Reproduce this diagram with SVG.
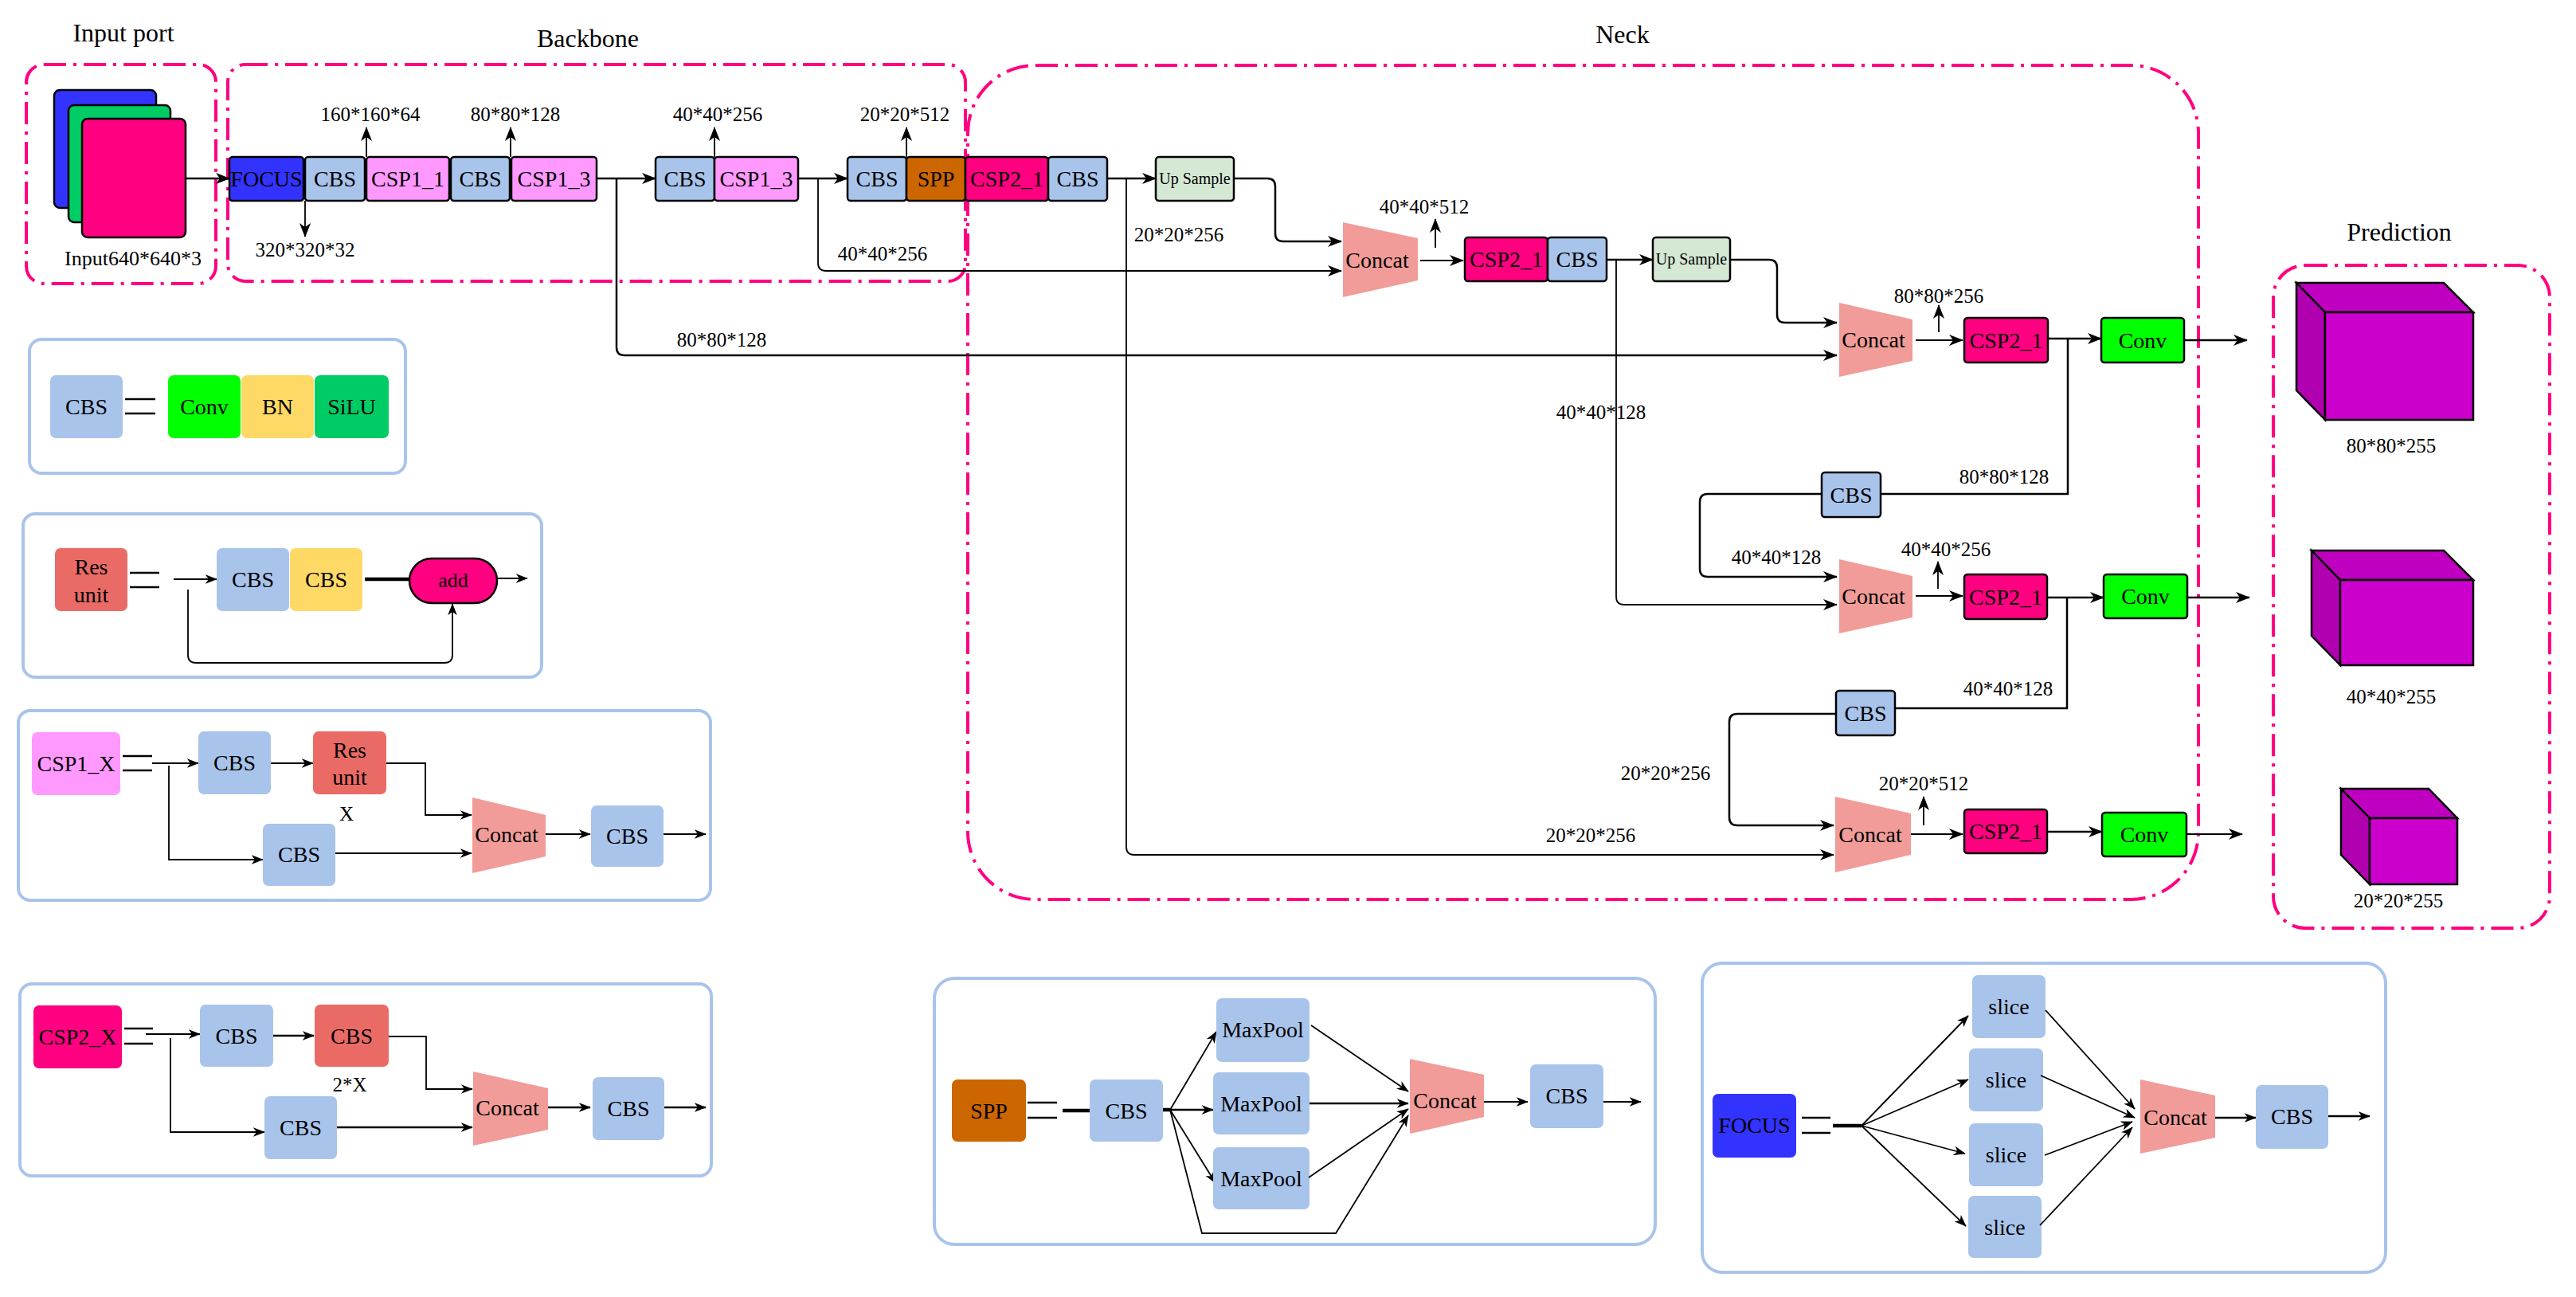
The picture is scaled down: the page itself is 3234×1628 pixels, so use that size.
<svg xmlns="http://www.w3.org/2000/svg" width="3234" height="1628" viewBox="0 0 3234 1628">
<style>
text{font-family:"Liberation Serif","Times New Roman",serif;fill:#000}
.t{font-size:28px;text-anchor:middle}
.us{font-size:20px;text-anchor:middle}
.l{font-size:25px;text-anchor:middle}
.ti{font-size:32px;text-anchor:middle}
.b{stroke:#000;stroke-width:2.5}
.cbs{fill:#A9C4EB}.foc{fill:#3333FF}.csp1{fill:#FF99FF}.csp2{fill:#FF0080}.spp{fill:#CC6600}
.up{fill:#D5E8D4}.conv{fill:#00FF00}.bn{fill:#FFD966}.silu{fill:#00CC66}.res{fill:#EA6B66}
.cat{fill:#F19C99}
.pd{fill:none;stroke:#FF0080;stroke-width:4;stroke-dasharray:28 9 4 9}
.lg{fill:none;stroke:#A9C4EB;stroke-width:4}
.ln{fill:none;stroke:#000;stroke-width:2.5}
.th{fill:none;stroke:#000;stroke-width:1.8}
.hv{fill:none;stroke:#000;stroke-width:4.5}
.eq{stroke:#000;stroke-width:2.5}
</style>
<defs>
<marker id="a" viewBox="0 0 18 14" refX="17" refY="7" markerWidth="18" markerHeight="14" markerUnits="userSpaceOnUse" orient="auto"><path d="M0,0 L18,7 L0,14 L5,7 Z" fill="#000"/></marker>
<marker id="s" viewBox="0 0 18 14" refX="17" refY="7" markerWidth="15" markerHeight="12" markerUnits="userSpaceOnUse" orient="auto"><path d="M0,0 L18,7 L0,14 L5,7 Z" fill="#000"/></marker>
</defs>
<rect width="3234" height="1628" fill="#fff"/>

<g id="frames">
<rect class="pd" x="33" y="81" width="238" height="275" rx="22"/>
<rect class="pd" x="286" y="81" width="926" height="272" rx="22"/>
<rect class="pd" x="1215" y="82" width="1545" height="1047" rx="85"/>
<rect class="pd" x="2854" y="333" width="347" height="832" rx="40"/>
<text class="ti" x="155" y="52">Input port</text>
<text class="ti" x="738" y="59">Backbone</text>
<text class="ti" x="2037" y="54">Neck</text>
<text class="ti" x="3012" y="302">Prediction</text>
</g>

<g id="connectors">
<path class="ln" d="M233,224 H288" marker-end="url(#a)"/>
<path class="th" d="M383,252 V297" marker-end="url(#a)"/>
<path class="th" d="M460,197 V160" marker-end="url(#a)"/>
<path class="th" d="M641,197 V160" marker-end="url(#a)"/>
<path class="th" d="M897,197 V160" marker-end="url(#a)"/>
<path class="th" d="M1138,197 V160" marker-end="url(#a)"/>
<path class="ln" d="M749,224 H823" marker-end="url(#a)"/>
<path class="ln" d="M774,224 V436 Q774,446 784,446 H2306" marker-end="url(#a)"/>
<path class="ln" d="M1002,224 H1064" marker-end="url(#a)"/>
<path class="th" d="M1027,224 V330 Q1027,340 1037,340 H1684" marker-end="url(#a)"/>
<path class="ln" d="M1390,224 H1451" marker-end="url(#a)"/>
<path class="th" d="M1414,224 V1063 Q1414,1073 1424,1073 H2302" marker-end="url(#a)"/>
<path class="ln" d="M1549,224 H1591 Q1601,224 1601,234 V293 Q1601,303 1611,303 H1684" marker-end="url(#a)"/>
<path class="th" d="M1783,327 H1837" marker-end="url(#a)"/>
<path class="th" d="M1802,311 V275" marker-end="url(#a)"/>
<path class="ln" d="M2017,326 H2075" marker-end="url(#a)"/>
<path class="th" d="M2029,326 V749 Q2029,759 2039,759 H2306" marker-end="url(#a)"/>
<path class="ln" d="M2172,326 H2221 Q2231,326 2231,336 V395 Q2231,405 2241,405 H2306" marker-end="url(#a)"/>
<path class="th" d="M2405,427 H2464" marker-end="url(#a)"/>
<path class="th" d="M2434,417 V383" marker-end="url(#a)"/>
<path class="ln" d="M2571,425 H2638" marker-end="url(#a)"/>
<path class="ln" d="M2596,425 V620 H2361"/>
<path class="ln" d="M2742,427 H2821" marker-end="url(#a)"/>
<path class="ln" d="M2287,620 H2144 Q2134,620 2134,630 V714 Q2134,724 2144,724 H2306" marker-end="url(#a)"/>
<path class="th" d="M2405,748 H2464" marker-end="url(#a)"/>
<path class="th" d="M2433,739 V705" marker-end="url(#a)"/>
<path class="ln" d="M2570,750 H2641" marker-end="url(#a)"/>
<path class="ln" d="M2595,750 V889 H2305"/>
<path class="ln" d="M2746,750 H2824" marker-end="url(#a)"/>
<path class="ln" d="M2305,896 H2181 Q2171,896 2171,906 V1026 Q2171,1036 2181,1036 H2302" marker-end="url(#a)"/>
<path class="th" d="M2399,1047 H2464" marker-end="url(#a)"/>
<path class="th" d="M2415,1036 V1000" marker-end="url(#a)"/>
<path class="ln" d="M2570,1044 H2639" marker-end="url(#a)"/>
<path class="th" d="M2745,1047 H2815" marker-end="url(#a)"/>
</g>

<g id="labels">
<text class="l" x="383" y="322">320*320*32</text>
<text class="l" x="465" y="152">160*160*64</text>
<text class="l" x="647" y="152">80*80*128</text>
<text class="l" x="901" y="152">40*40*256</text>
<text class="l" x="1136" y="152">20*20*512</text>
<text class="l" x="167" y="333" style="font-size:26px">Input640*640*3</text>
<text class="l" x="1108" y="327">40*40*256</text>
<text class="l" x="906" y="435">80*80*128</text>
<text class="l" x="1480" y="303">20*20*256</text>
<text class="l" x="1788" y="268">40*40*512</text>
<text class="l" x="2010" y="526">40*40*128</text>
<text class="l" x="2434" y="380">80*80*256</text>
<text class="l" x="2516" y="607">80*80*128</text>
<text class="l" x="2230" y="708">40*40*128</text>
<text class="l" x="2443" y="698">40*40*256</text>
<text class="l" x="2521" y="873">40*40*128</text>
<text class="l" x="2091" y="979">20*20*256</text>
<text class="l" x="1997" y="1057">20*20*256</text>
<text class="l" x="2415" y="992">20*20*512</text>
<text class="l" x="3002" y="568">80*80*255</text>
<text class="l" x="3002" y="883">40*40*255</text>
<text class="l" x="3011" y="1139">20*20*255</text>
</g>

<g id="input-image">
<rect class="b foc" x="68" y="113" width="128" height="148" rx="7"/>
<rect class="b silu" x="86" y="132" width="128" height="147" rx="7"/>
<rect class="b csp2" x="103" y="149" width="130" height="149" rx="7"/>
</g>

<g id="bb-focus"><rect class="b foc" x="288" y="197" width="93" height="55" rx="4"/><text class="t" x="334.5" y="234">FOCUS</text></g>
<g id="bb-cbs1"><rect class="b cbs" x="383" y="197" width="75" height="55" rx="4"/><text class="t" x="420.5" y="234">CBS</text></g>
<g id="bb-csp1-1"><rect class="b csp1" x="460" y="197" width="104" height="55" rx="4"/><text class="t" x="512" y="234">CSP1_1</text></g>
<g id="bb-cbs2"><rect class="b cbs" x="566" y="197" width="74" height="55" rx="4"/><text class="t" x="603" y="234">CBS</text></g>
<g id="bb-csp1-3a"><rect class="b csp1" x="642" y="197" width="107" height="55" rx="4"/><text class="t" x="695.5" y="234">CSP1_3</text></g>
<g id="bb-cbs3"><rect class="b cbs" x="823" y="197" width="74" height="55" rx="4"/><text class="t" x="860" y="234">CBS</text></g>
<g id="bb-csp1-3b"><rect class="b csp1" x="897" y="197" width="105" height="55" rx="4"/><text class="t" x="949.5" y="234">CSP1_3</text></g>
<g id="bb-cbs4"><rect class="b cbs" x="1064" y="197" width="74" height="55" rx="4"/><text class="t" x="1101" y="234">CBS</text></g>
<g id="bb-spp"><rect class="b spp" x="1138" y="197" width="74" height="55" rx="4"/><text class="t" x="1175" y="234">SPP</text></g>
<g id="bb-csp2"><rect class="b csp2" x="1212" y="197" width="104" height="55" rx="4"/><text class="t" x="1264" y="234">CSP2_1</text></g>
<g id="bb-cbs5"><rect class="b cbs" x="1316" y="197" width="74" height="55" rx="4"/><text class="t" x="1353" y="234">CBS</text></g>
<g id="nk-up1"><rect class="b up" x="1451" y="197" width="98" height="55" rx="4"/><text class="us" x="1500" y="231">Up Sample</text></g>

<g id="nk-concat1"><polygon class="cat" points="1686,279 1780,299 1780,352 1686,373"/><text class="t" x="1729" y="336">Concat</text></g>
<g id="nk-csp2-a"><rect class="b csp2" x="1839" y="298" width="104" height="55" rx="4"/><text class="t" x="1891" y="335">CSP2_1</text></g>
<g id="nk-cbs-a"><rect class="b cbs" x="1943" y="298" width="74" height="55" rx="4"/><text class="t" x="1980" y="335">CBS</text></g>
<g id="nk-up2"><rect class="b up" x="2075" y="298" width="97" height="55" rx="4"/><text class="us" x="2123.5" y="332">Up Sample</text></g>

<g id="nk-concat2"><polygon class="cat" points="2309,380 2401,401 2401,453 2309,473"/><text class="t" x="2352" y="436">Concat</text></g>
<g id="nk-csp2-b"><rect class="b csp2" x="2466" y="399" width="105" height="56" rx="4"/><text class="t" x="2518.5" y="436.5">CSP2_1</text></g>
<g id="nk-conv1"><rect class="b conv" x="2638" y="399" width="104" height="56" rx="4"/><text class="t" x="2690" y="436.5">Conv</text></g>

<g id="nk-cbs-b"><rect class="b cbs" x="2287" y="593" width="74" height="56" rx="4"/><text class="t" x="2324" y="630.5">CBS</text></g>

<g id="nk-concat3"><polygon class="cat" points="2309,702 2401,723 2401,775 2309,795"/><text class="t" x="2352" y="758">Concat</text></g>
<g id="nk-csp2-c"><rect class="b csp2" x="2466" y="721" width="104" height="56" rx="4"/><text class="t" x="2518" y="758.5">CSP2_1</text></g>
<g id="nk-conv2"><rect class="b conv" x="2641" y="721" width="105" height="55" rx="4"/><text class="t" x="2693.5" y="758">Conv</text></g>

<g id="nk-cbs-c"><rect class="b cbs" x="2305" y="867" width="74" height="56" rx="4"/><text class="t" x="2342" y="904.5">CBS</text></g>

<g id="nk-concat4"><polygon class="cat" points="2304,1000 2399,1021 2399,1073 2304,1095"/><text class="t" x="2348" y="1057">Concat</text></g>
<g id="nk-csp2-d"><rect class="b csp2" x="2466" y="1016" width="104" height="55" rx="4"/><text class="t" x="2518" y="1053">CSP2_1</text></g>
<g id="nk-conv3"><rect class="b conv" x="2639" y="1020" width="106" height="55" rx="4"/><text class="t" x="2692" y="1057">Conv</text></g>

<g id="pred-80">
<polygon class="b" fill="#C000C0" points="2883,355 3068,355 3105,392 2919,392"/>
<polygon class="b" fill="#B000B0" points="2883,355 2919,392 2919,527 2883,490"/>
<rect class="b" fill="#CC00CC" x="2919" y="392" width="186" height="135"/>
</g>
<g id="pred-40">
<polygon class="b" fill="#C000C0" points="2902,691 3068,691 3105,728 2938,728"/>
<polygon class="b" fill="#B000B0" points="2902,691 2938,728 2938,835 2902,798"/>
<rect class="b" fill="#CC00CC" x="2938" y="728" width="167" height="107"/>
</g>
<g id="pred-20">
<polygon class="b" fill="#C000C0" points="2939,990 3049,990 3085,1027 2975,1027"/>
<polygon class="b" fill="#B000B0" points="2939,990 2975,1027 2975,1110 2939,1073"/>
<rect class="b" fill="#CC00CC" x="2975" y="1027" width="110" height="83"/>
</g>

<g id="legend-cbs">
<rect class="lg" x="37" y="426" width="472" height="168" rx="15"/>
<rect class="cbs" x="63" y="471" width="91" height="79" rx="7"/><text class="t" x="108.5" y="520">CBS</text>
<line class="eq" x1="157" y1="501" x2="195" y2="501"/><line class="eq" x1="157" y1="519" x2="195" y2="519"/>
<rect class="conv" x="211" y="471" width="91" height="79" rx="7"/><text class="t" x="256.5" y="520">Conv</text>
<rect class="bn" x="303" y="471" width="91" height="79" rx="7"/><text class="t" x="348.5" y="520">BN</text>
<rect class="silu" x="395" y="471" width="93" height="79" rx="7"/><text class="t" x="441.5" y="520">SiLU</text>
</g>

<g id="legend-res">
<rect class="lg" x="29" y="645" width="651" height="205" rx="15"/>
<rect class="res" x="69" y="688" width="91" height="79" rx="7"/><text class="t" x="114.5" y="721">Res</text><text class="t" x="114.5" y="756">unit</text>
<line class="eq" x1="163" y1="719" x2="200" y2="719"/><line class="eq" x1="163" y1="737" x2="200" y2="737"/>
<path class="th" d="M218,727 H272" marker-end="url(#s)"/>
<rect class="cbs" x="272" y="688" width="91" height="79" rx="7"/><text class="t" x="317.5" y="737">CBS</text>
<rect class="bn" x="364" y="688" width="91" height="79" rx="7"/><text class="t" x="409.5" y="737">CBS</text>
<path class="hv" d="M458,727 H514"/>
<rect class="b csp2" x="514" y="701" width="110" height="56" rx="28"/><text class="t" x="569" y="737" style="font-size:26px">add</text>
<path class="th" d="M624,726 H662" marker-end="url(#s)"/>
<path class="th" d="M236,740 V822 Q236,832 246,832 H558 Q568,832 568,822 V758" marker-end="url(#s)"/>
</g>

<g id="legend-csp1">
<rect class="lg" x="23" y="892" width="869" height="238" rx="15"/>
<rect class="csp1" x="40" y="919" width="111" height="79" rx="7"/><text class="t" x="95.5" y="968">CSP1_X</text>
<line class="eq" x1="154" y1="949" x2="191" y2="949"/><line class="eq" x1="154" y1="967" x2="191" y2="967"/>
<path class="th" d="M191,958 H249" marker-end="url(#s)"/>
<rect class="cbs" x="249" y="918" width="91" height="79" rx="7"/><text class="t" x="294.5" y="967">CBS</text>
<path class="th" d="M340,958 H393" marker-end="url(#s)"/>
<rect class="res" x="393" y="918" width="92" height="79" rx="7"/><text class="t" x="439" y="951">Res</text><text class="t" x="439" y="985">unit</text>
<text class="l" x="435" y="1030">X</text>
<path class="th" d="M485,958 H534 V1023 H592" marker-end="url(#s)"/>
<path class="th" d="M212,961 V1079 H330" marker-end="url(#s)"/>
<rect class="cbs" x="330" y="1034" width="91" height="78" rx="7"/><text class="t" x="375.5" y="1082">CBS</text>
<path class="th" d="M421,1071 H592" marker-end="url(#s)"/>
<polygon class="cat" points="593,1001 685,1023 685,1075 593,1096"/><text class="t" x="636" y="1057">Concat</text>
<path class="th" d="M685,1047 H741" marker-end="url(#s)"/>
<rect class="cbs" x="742" y="1011" width="91" height="77" rx="7"/><text class="t" x="787.5" y="1059">CBS</text>
<path class="th" d="M833,1047 H886" marker-end="url(#s)"/>
</g>

<g id="legend-csp2">
<rect class="lg" x="25" y="1235" width="868" height="241" rx="15"/>
<rect class="csp2" x="42" y="1262" width="111" height="79" rx="7"/><text class="t" x="97.5" y="1311">CSP2_X</text>
<line class="eq" x1="156" y1="1291" x2="192" y2="1291"/><line class="eq" x1="156" y1="1310" x2="192" y2="1310"/>
<path class="th" d="M183,1298 H251" marker-end="url(#s)"/>
<rect class="cbs" x="251" y="1261" width="92" height="78" rx="7"/><text class="t" x="297" y="1310">CBS</text>
<path class="ln" d="M343,1300 H394" marker-end="url(#s)"/>
<rect class="res" x="395" y="1261" width="93" height="78" rx="7"/><text class="t" x="441.5" y="1310">CBS</text>
<text class="l" x="439" y="1370">2*X</text>
<path class="th" d="M488,1301 H535 V1367 H593" marker-end="url(#s)"/>
<path class="th" d="M214,1303 V1421 H332" marker-end="url(#s)"/>
<rect class="cbs" x="332" y="1376" width="91" height="79" rx="7"/><text class="t" x="377.5" y="1425">CBS</text>
<path class="ln" d="M423,1415 H593" marker-end="url(#s)"/>
<polygon class="cat" points="594,1345 688,1366 688,1418 594,1438"/><text class="t" x="637" y="1400">Concat</text>
<path class="ln" d="M688,1390 H741" marker-end="url(#s)"/>
<rect class="cbs" x="744" y="1352" width="90" height="79" rx="7"/><text class="t" x="789" y="1401">CBS</text>
<path class="ln" d="M834,1390 H886" marker-end="url(#s)"/>
</g>

<g id="legend-spp">
<rect class="lg" x="1173" y="1228" width="905" height="334" rx="25"/>
<rect class="spp" x="1195" y="1355" width="93" height="78" rx="7"/><text class="t" x="1241.5" y="1404">SPP</text>
<line class="eq" x1="1290" y1="1384" x2="1327" y2="1384"/><line class="eq" x1="1290" y1="1403" x2="1327" y2="1403"/>
<path class="hv" d="M1334,1394 H1368"/>
<rect class="cbs" x="1368" y="1355" width="92" height="78" rx="7"/><text class="t" x="1414" y="1404">CBS</text>
<path class="hv" d="M1460,1393 H1469"/>
<path class="th" d="M1469,1393 L1527,1295" marker-end="url(#s)"/>
<path class="ln" d="M1469,1393 H1523" marker-end="url(#s)"/>
<path class="th" d="M1469,1393 L1526,1485" marker-end="url(#s)"/>
<path class="th" d="M1469,1393 L1509,1548 H1677 L1768,1400" marker-end="url(#s)"/>
<rect class="cbs" x="1527" y="1253" width="117" height="80" rx="7"/><text class="t" x="1585.5" y="1302">MaxPool</text>
<rect class="cbs" x="1523" y="1346" width="121" height="78" rx="7"/><text class="t" x="1583.5" y="1395">MaxPool</text>
<rect class="cbs" x="1523" y="1440" width="121" height="78" rx="7"/><text class="t" x="1583.5" y="1489">MaxPool</text>
<path class="th" d="M1646,1287 L1768,1370" marker-end="url(#s)"/>
<path class="ln" d="M1644,1385 H1768" marker-end="url(#s)"/>
<path class="th" d="M1643,1478 L1768,1392" marker-end="url(#s)"/>
<polygon class="cat" points="1770,1329 1863,1349 1863,1402 1770,1423"/><text class="t" x="1814" y="1391">Concat</text>
<path class="th" d="M1863,1383 H1918" marker-end="url(#s)"/>
<rect class="cbs" x="1921" y="1336" width="92" height="80" rx="7"/><text class="t" x="1967" y="1385">CBS</text>
<path class="th" d="M2013,1383 H2060" marker-end="url(#s)"/>
</g>

<g id="legend-focus">
<rect class="lg" x="2137" y="1209" width="858" height="388" rx="25"/>
<rect class="foc" x="2150" y="1373" width="105" height="80" rx="7"/><text class="t" x="2202.5" y="1422">FOCUS</text>
<line class="eq" x1="2262" y1="1403" x2="2298" y2="1403"/><line class="eq" x1="2262" y1="1422" x2="2298" y2="1422"/>
<path class="hv" d="M2301,1413 H2337"/>
<path class="th" d="M2337,1413 L2471,1275" marker-end="url(#s)"/>
<path class="th" d="M2337,1413 L2471,1355" marker-end="url(#s)"/>
<path class="th" d="M2337,1413 L2467,1448" marker-end="url(#s)"/>
<path class="th" d="M2337,1413 L2468,1539" marker-end="url(#s)"/>
<rect class="cbs" x="2476" y="1224" width="92" height="79" rx="7"/><text class="t" x="2522" y="1273">slice</text>
<rect class="cbs" x="2472" y="1316" width="93" height="79" rx="7"/><text class="t" x="2518.5" y="1365">slice</text>
<rect class="cbs" x="2472" y="1410" width="93" height="79" rx="7"/><text class="t" x="2518.5" y="1459">slice</text>
<rect class="cbs" x="2471" y="1501" width="92" height="78" rx="7"/><text class="t" x="2517" y="1550">slice</text>
<path class="th" d="M2568,1268 L2680,1392" marker-end="url(#s)"/>
<path class="th" d="M2562,1350 L2680,1403" marker-end="url(#s)"/>
<path class="th" d="M2567,1450 L2677,1408" marker-end="url(#s)"/>
<path class="th" d="M2561,1538 L2677,1415" marker-end="url(#s)"/>
<polygon class="cat" points="2687,1355 2781,1375 2781,1428 2687,1448"/><text class="t" x="2731" y="1412">Concat</text>
<path class="ln" d="M2781,1403 H2832" marker-end="url(#s)"/>
<rect class="cbs" x="2832" y="1362" width="91" height="80" rx="7"/><text class="t" x="2877.5" y="1411">CBS</text>
<path class="ln" d="M2923,1401 H2975" marker-end="url(#s)"/>
</g>
</svg>
